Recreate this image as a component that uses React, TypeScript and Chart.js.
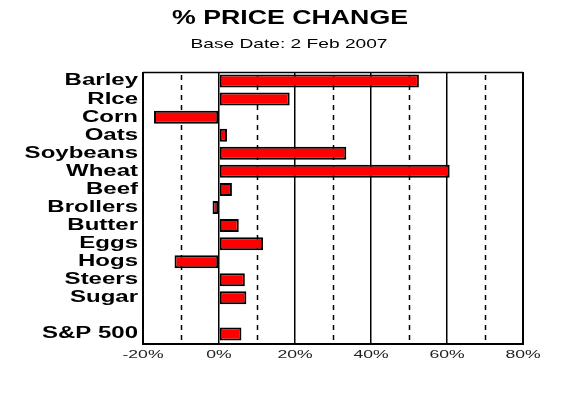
import React, { useEffect, useRef } from "react";
import { Chart, registerables } from "chart.js";

Chart.register(...registerables);

const TITLE = "% PRICE CHANGE";
const SUBTITLE = "Base Date: 2 Feb 2007";
const CATEGORIES = ["Barley", "RIce", "Corn", "Oats", "Soybeans", "Wheat", "Beef", "Brollers", "Butter", "Eggs", "Hogs", "Steers", "Sugar", "", "S&P 500"];
const VALUES: (number | null)[] = [52.6, 18.6, -17.1, 2.1, 33.5, 60.7, 3.4, -1.7, 5.2, 11.6, -11.7, 6.8, 7.2, null, 5.9];
const X_TICKS = [-20, 0, 20, 40, 60, 80];
const X_TICK_LABELS = ["-20%", "0%", "20%", "40%", "60%", "80%"];
const DASHED_LINES = [-10, 10, 30, 50, 70];

function drawStretched(ctx: CanvasRenderingContext2D, text: string, x: number, y: number, font: string, sx: number, align: CanvasTextAlign, color: string) {
  ctx.save();
  ctx.font = font;
  ctx.fillStyle = color;
  ctx.textBaseline = "middle";
  ctx.textAlign = align;
  ctx.translate(x, y);
  ctx.scale(sx, 1);
  ctx.fillText(text, 0, 0);
  ctx.restore();
}

const decorPlugin = {
  id: "decor",
  beforeDatasetsDraw(chart: any) {
    const ctx = chart.ctx as CanvasRenderingContext2D;
    const { top, bottom } = chart.chartArea;
    const xs = chart.scales.x;
    ctx.save();
    ctx.strokeStyle = "#000";
    ctx.lineWidth = 1.5;
    ctx.setLineDash([5, 5]);
    DASHED_LINES.forEach((v) => {
      const px = Math.round(xs.getPixelForValue(v)) + 0.5;
      ctx.beginPath();
      ctx.moveTo(px, top + 3);
      ctx.lineTo(px, bottom - 2);
      ctx.stroke();
    });
    ctx.restore();
  },
  afterDraw(chart: any) {
    const ctx = chart.ctx as CanvasRenderingContext2D;
    const { left, right, top, bottom } = chart.chartArea;
    const xs = chart.scales.x;
    const ys = chart.scales.y;
    // frame
    ctx.save();
    ctx.strokeStyle = "#000";
    ctx.lineWidth = 1.5;
    ctx.beginPath();
    ctx.moveTo(left, top + 0.5);
    ctx.lineTo(right, top + 0.5);
    ctx.stroke();
    ctx.lineWidth = 2;
    ctx.beginPath();
    ctx.moveTo(left - 1, bottom + 1);
    ctx.lineTo(right + 1, bottom + 1);
    ctx.stroke();
    ctx.beginPath();
    ctx.moveTo(left, top);
    ctx.lineTo(left, bottom);
    ctx.moveTo(right, top);
    ctx.lineTo(right, bottom);
    ctx.stroke();
    ctx.restore();

    // title & subtitle
    ctx.save();
    ctx.font = "bold 20px 'Liberation Sans', Arial, sans-serif";
    const tw = ctx.measureText(TITLE).width;
    ctx.font = "13px 'Liberation Sans', Arial, sans-serif";
    const sw = ctx.measureText(SUBTITLE).width;
    ctx.restore();
    drawStretched(ctx, TITLE, 290, 18, "bold 20px 'Liberation Sans', Arial, sans-serif", 236 / tw, "center", "#000");
    drawStretched(ctx, SUBTITLE, 289, 44, "13px 'Liberation Sans', Arial, sans-serif", 197 / sw, "center", "#000");

    // y labels
    CATEGORIES.forEach((c, i) => {
      if (!c) return;
      const py = ys.getPixelForValue(i);
      drawStretched(ctx, c, left - 5, py, "bold 16px 'Liberation Sans', Arial, sans-serif", 1.5, "right", "#000");
    });

    // x labels
    X_TICKS.forEach((v, i) => {
      const px = xs.getPixelForValue(v);
      drawStretched(ctx, X_TICK_LABELS[i], px, bottom + 12, "11px 'Liberation Sans', Arial, sans-serif", 1.6, "center", "#222");
    });
  },
};

export default function App() {
  const ref = useRef<HTMLCanvasElement | null>(null);
  useEffect(() => {
    if (!ref.current) return;
    const chart = new Chart(ref.current, {
      type: "bar",
      data: {
        labels: CATEGORIES,
        datasets: [
          {
            data: VALUES as any,
            backgroundColor: "#ff0000",
            borderColor: "#000000",
            borderWidth: 2,
            borderSkipped: false,
            barPercentage: 0.72,
            categoryPercentage: 1,
          },
        ],
      },
      options: {
        indexAxis: "y",
        animation: false,
        responsive: true,
        maintainAspectRatio: false,
        layout: { padding: { top: 72, left: 0, right: 57, bottom: 0 } },
        plugins: { legend: { display: false }, title: { display: false }, tooltip: { enabled: false } },
        scales: {
          x: {
            type: "linear",
            min: -20,
            max: 80,
            afterFit: (s: any) => {
              s.height = 50;
            },
            afterBuildTicks: (s: any) => {
              s.ticks = X_TICKS.map((v) => ({ value: v }));
            },
            ticks: { display: false },
            grid: { color: "#000", lineWidth: 1.5, drawTicks: false },
            border: { display: false },
          },
          y: {
            type: "category",
            afterFit: (s: any) => {
              s.width = 143;
            },
            ticks: { display: false },
            grid: { display: false, drawTicks: false },
            border: { display: false },
          },
        },
      },
      plugins: [decorPlugin],
    });
    return () => chart.destroy();
  }, []);
  return (
    <div style={{ position: "fixed", left: 0, top: 0, width: 580, height: 393, background: "#fff" }}>
      <canvas ref={ref} />
    </div>
  );
}
